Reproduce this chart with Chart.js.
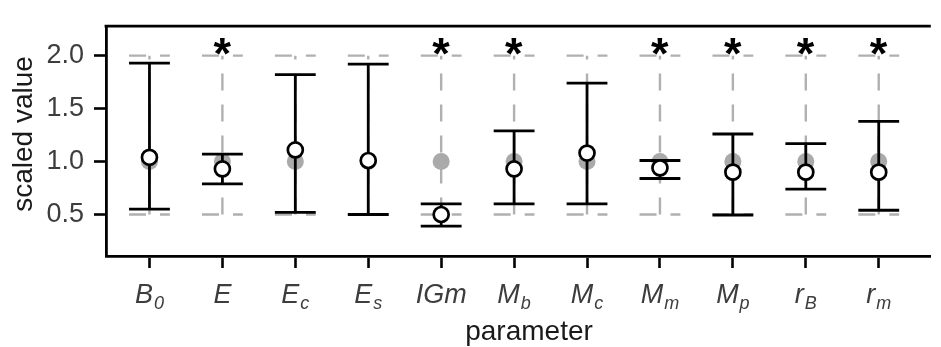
<!DOCTYPE html>
<html><head><meta charset="utf-8">
<script src="https://cdn.jsdelivr.net/npm/chart.js@4.4.1/dist/chart.umd.min.js"></script>
<style>html,body{margin:0;padding:0;background:#fff;}#wrap{width:941px;height:347px;}</style>
</head><body><div id="wrap"><canvas id="c" width="941" height="347"></canvas></div>
<script>
// ---- data ----
const paramNames = ['B0','E','Ec','Es','IGm','Mb','Mc','Mm','Mp','rB','rm'];
const paramMain  = ['B','E','E','E','IGm','M','M','M','M','r','r'];
const paramSub   = ['0','','c','s','','b','c','m','p','B','m'];
const estimate   = [1.04,0.93,1.11,1.01,0.50,0.93,1.08,0.94,0.90,0.90,0.90];
const lower      = [0.55,0.79,0.52,0.50,0.39,0.60,0.60,0.84,0.495,0.74,0.54];
const upper      = [1.93,1.07,1.82,1.92,0.60,1.29,1.74,1.01,1.26,1.17,1.38];
const priorLower = [0.5,0.5,0.5,0.5,0.5,0.5,0.5,0.5,0.5,0.5,0.5];
const priorMid   = [1,1,1,1,1,1,1,1,1,1,1];
const priorUpper = [2,2,2,2,2,2,2,2,2,2,2];
const significant= [false,true,false,false,true,true,false,true,true,true,true];
const yTicks     = [0.5,1.0,1.5,2.0];
const starLevel  = 2.085;

// ---- styles ----
const FONT = '"Liberation Sans", Arial, sans-serif';
const CAP_HALF = 0.28;
const GRAY = '#b0b0b0';

Chart.defaults.font.family = FONT;

function drawBars(ctx, x, y, lo, hi, hw) {
  lo.forEach((l, i) => {
    const px = x.getPixelForValue(i);
    const pl = y.getPixelForValue(l), ph = y.getPixelForValue(hi[i]);
    ctx.beginPath(); ctx.moveTo(px, pl); ctx.lineTo(px, ph); ctx.stroke();
    [pl, ph].forEach(py => { ctx.beginPath(); ctx.moveTo(px - hw, py); ctx.lineTo(px + hw, py); ctx.stroke(); });
  });
}

const errPlugin = {
  id: 'errbars',
  beforeDatasetsDraw(chart) {
    const {ctx, scales:{x, y}} = chart;
    const hw = CAP_HALF * (x.getPixelForValue(1) - x.getPixelForValue(0));
    ctx.save();
    ctx.strokeStyle = GRAY; ctx.lineWidth = 2.4; ctx.setLineDash([17,14]);
    drawBars(ctx, x, y, priorLower, priorUpper, hw);
    ctx.restore();
  },
  afterDatasetDraw(chart, args) {
    if (args.index !== 1) return;   // after the prior points, before the estimates
    const {ctx, scales:{x, y}} = chart;
    const hw = CAP_HALF * (x.getPixelForValue(1) - x.getPixelForValue(0));
    ctx.save();
    ctx.strokeStyle = '#000'; ctx.lineWidth = 2.8; ctx.lineCap = 'butt';
    drawBars(ctx, x, y, lower, upper, hw);
    ctx.restore();
  },
  afterDatasetsDraw(chart) {
    const {ctx, scales:{x, y}} = chart;
    ctx.save();
    ctx.fillStyle = '#000';
    ctx.font = 'bold 40px ' + FONT;
    let m = ctx.measureText('*');
    const w = m.actualBoundingBoxRight + m.actualBoundingBoxLeft;
    const fs = 40 * 18 / w;
    ctx.font = 'bold ' + fs + 'px ' + FONT;
    m = ctx.measureText('*');
    ctx.textAlign = 'left'; ctx.textBaseline = 'alphabetic';
    significant.forEach((s, i) => {
      if (!s) return;
      const px = x.getPixelForValue(i), py = y.getPixelForValue(starLevel);
      const gx = px - (m.actualBoundingBoxRight - m.actualBoundingBoxLeft) / 2;
      const gy = py + (m.actualBoundingBoxAscent - m.actualBoundingBoxDescent) / 2;
      ctx.fillText('*', gx, gy);
    });
    ctx.restore();
  },
  afterDraw(chart) {
    const {ctx, scales:{x}, chartArea} = chart;
    ctx.save();
    ctx.strokeStyle = '#000'; ctx.lineWidth = 2.8;
    ctx.beginPath(); ctx.moveTo(chartArea.left - 1.4, chartArea.top); ctx.lineTo(chartArea.right, chartArea.top); ctx.stroke();
    ctx.fillStyle = '#3d3d3d'; ctx.textBaseline = 'alphabetic'; ctx.textAlign = 'left';
    const mainFont = 'italic 27px ' + FONT, subFont = 'italic 18px ' + FONT;
    paramMain.forEach((t, i) => {
      const px = x.getPixelForValue(i);
      ctx.font = mainFont; const wm = ctx.measureText(t).width;
      ctx.font = subFont; const ws = paramSub[i] ? ctx.measureText(paramSub[i]).width + 1 : 0;
      const sx = px - (wm + ws) / 2;
      ctx.font = mainFont; ctx.fillText(t, sx, 303);
      if (paramSub[i]) { ctx.font = subFont; ctx.fillText(paramSub[i], sx + wm + 1, 309); }
    });
    ctx.fillStyle = '#1a1a1a'; ctx.font = '28px ' + FONT; ctx.textAlign = 'center';
    ctx.fillText('parameter', 529, 340);
    ctx.translate(32, 134); ctx.rotate(-Math.PI / 2);
    ctx.fillText('scaled value', 0, 0);
    ctx.restore();
  }
};

new Chart(document.getElementById('c'), {
  type: 'scatter',
  data: {
    labels: paramNames,
    datasets: [
      { label: 'estimate', data: estimate.map((v, i) => ({x: i, y: v})),
        pointRadius: 7.5, pointBackgroundColor: '#ffffff', pointBorderColor: '#000', pointBorderWidth: 2.7 },
      { label: 'prior', data: priorMid.map((v, i) => ({x: i, y: v})),
        pointRadius: 8.5, pointBackgroundColor: '#aaaaaa', pointBorderWidth: 0, pointBorderColor: '#aaaaaa' }
    ]
  },
  options: {
    responsive: false, animation: false, devicePixelRatio: 1,
    layout: { padding: { top: 14, left: 0, right: 0, bottom: 0 } },
    plugins: { legend: { display: false }, tooltip: { enabled: false } },
    scales: {
      x: {
        type: 'linear', min: -0.596, max: 10.714,
        afterBuildTicks: s => { s.ticks = paramNames.map((_, i) => ({value: i})); },
        afterFit: s => { s.height = 91; },
        ticks: { display: false },
        grid: { drawOnChartArea: false, drawTicks: true, tickLength: 12, tickWidth: 2.6, tickColor: '#000', color: '#000' },
        border: { display: true, color: '#000', width: 2.8 }
      },
      y: {
        min: 0.108, max: 2.278,
        afterBuildTicks: s => { s.ticks = yTicks.map(v => ({value: v})); },
        afterFit: s => { s.width = 106; },
        ticks: { color: '#3d3d3d', font: { size: 27 }, padding: 10, callback: v => Number(v).toFixed(1) },
        grid: { drawOnChartArea: false, drawTicks: true, tickLength: 12, tickWidth: 2.6, tickColor: '#000', color: '#000' },
        border: { display: true, color: '#000', width: 2.8 }
      }
    }
  },
  plugins: [errPlugin]
});
</script>
</body></html>
